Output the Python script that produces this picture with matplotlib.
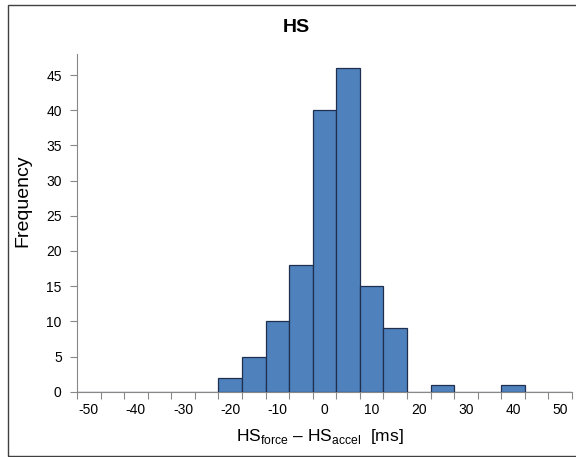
import numpy as np
import matplotlib
matplotlib.use('Agg')
import matplotlib.pyplot as plt
from matplotlib.patches import Rectangle

plt.rcParams['font.family'] = ['Liberation Sans', 'DejaVu Sans']
plt.rcParams['mathtext.fontset'] = 'custom'
plt.rcParams['mathtext.rm'] = 'Liberation Sans'

# Data (bin centres in ms and counts)
bins = [-50, -45, -40, -35, -30, -25, -20, -15, -10, -5, 0, 5, 10, 15, 20, 25, 30, 35, 40, 45, 50]
counts = [0, 0, 0, 0, 0, 0, 2, 5, 10, 18, 40, 46, 15, 9, 0, 1, 0, 0, 1, 0, 0]

fig = plt.figure(figsize=(5.76, 4.57), dpi=100)
ax = fig.add_axes([77/576, 1 - 391.7/457, (572 - 77)/576, (391.7 - 54)/457])

# outer chart border
fig.patches.append(Rectangle((7.5/576, 1 - 456/457), 0.999, (456 - 5)/457,
                             transform=fig.transFigure, fill=False,
                             edgecolor='#404040', linewidth=1.0))

pos = np.arange(len(bins))
ax.bar(pos, counts, width=1.0, color='#4F81BD', edgecolor='#1F2F4F', linewidth=0.9, zorder=3)

ax.set_xlim(-0.5, len(bins) - 0.5)
ax.set_ylim(0, 48)

# category boundaries as tick marks, labels at every other category
ax.set_xticks(np.arange(len(bins) + 1) - 0.5)
ax.set_xticklabels([])
ax.set_xticks(pos[::2], minor=True)
ax.set_xticklabels([str(b) for b in bins[::2]], minor=True)
ax.tick_params(axis='x', which='major', length=5, color='#888888', width=0.8)
ax.tick_params(axis='x', which='minor', length=0, pad=8, labelsize=10)

ax.set_yticks(np.arange(0, 46, 5))
ax.tick_params(axis='y', length=5, color='#888888', width=0.8, labelsize=10, pad=6)

for s in ['top', 'right']:
    ax.spines[s].set_visible(False)
for s in ['left', 'bottom']:
    ax.spines[s].set_color('#888888')
    ax.spines[s].set_linewidth(0.8)

fig.text(296/576, 1 - 28/457, 'HS', ha='center', va='center', fontsize=14, fontweight='bold')
fig.text(23/576, 1 - 201/457, 'Frequency', rotation=90, ha='center', va='center', fontsize=14)
fig.text(320/576, 1 - 437/457, r'HS$_{\mathregular{force}}$ – HS$_{\mathregular{accel}}$  [ms]',
         ha='center', va='center', fontsize=12.5)

fig.savefig('out.png', dpi=100)
